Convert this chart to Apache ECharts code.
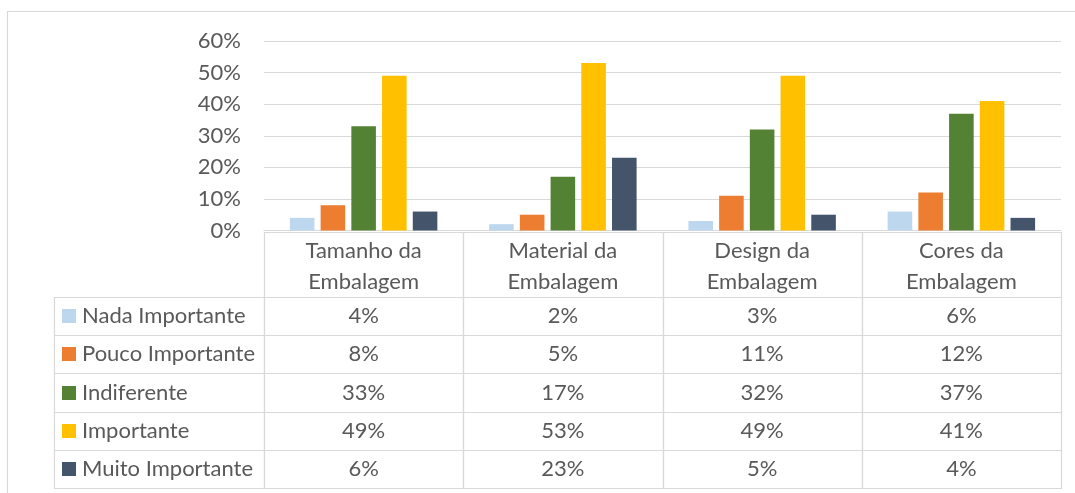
<!DOCTYPE html>
<html>
<head>
<meta charset="utf-8">
<style>
  html, body { margin: 0; padding: 0; background: #ffffff; }
  #chart { width: 1075px; height: 493px; }
</style>
<script src="https://cdn.jsdelivr.net/npm/echarts@6/dist/echarts.min.js"></script>
</head>
<body>
<div id="chart"></div>
<script>
// Importância atribuída às características da embalagem (%)
const categories = ['Tamanho da\nEmbalagem', 'Material da\nEmbalagem', 'Design da\nEmbalagem', 'Cores da\nEmbalagem'];
const seriesNames = ['Nada Importante', 'Pouco Importante', 'Indiferente', 'Importante', 'Muito Importante'];
const nadaImportante = [4, 2, 3, 6];
const poucoImportante = [8, 5, 11, 12];
const indiferente = [33, 17, 32, 37];
const importante = [49, 53, 49, 41];
const muitoImportante = [6, 23, 5, 4];
const yTicks = [0, 10, 20, 30, 40, 50, 60];

const seriesValues = [nadaImportante, poucoImportante, indiferente, importante, muitoImportante];
const colors = ['#BDD7EE', '#ED7D31', '#548235', '#FFC000', '#44546A'];

const FONT = 'Lato, "Liberation Sans", sans-serif';
const TEXT = '#595959';
const LINE = '#d9d9d9';
const FS = 22;
const LEGEND_COL_W = 211;
const HEADER_H = 66;

const chart = echarts.init(document.getElementById('chart'), null, { renderer: 'canvas' });

// Data-table cells: one item per (category, series)
const tableData = [];
seriesValues.forEach((vals, r) => {
  vals.forEach((v, c) => tableData.push([c, r, v]));
});

function crisp(v) { return Math.round(v) + 0.5; }

function renderCell(params, api) {
  const c = api.value(0);
  const r = api.value(1);
  const v = api.value(2);
  const center = api.coord([c, r]);
  const size = api.size([1, 1]);
  const x0 = crisp(center[0] - size[0] / 2);
  const x1 = crisp(center[0] + size[0] / 2);
  const y0 = crisp(center[1] - size[1] / 2);
  const y1 = crisp(center[1] + size[1] / 2);
  const children = [
    {
      type: 'rect',
      shape: { x: x0, y: y0, width: x1 - x0, height: y1 - y0 },
      style: { fill: 'none', stroke: LINE, lineWidth: 1.2 }
    },
    {
      type: 'text',
      style: {
        text: v + '%', x: center[0], y: center[1],
        align: 'center', verticalAlign: 'middle',
        fill: TEXT, fontSize: FS, fontFamily: FONT
      }
    }
  ];
  if (c === 0) {
    // legend key column
    const lx = crisp(x0 - LEGEND_COL_W);
    children.push({
      type: 'rect',
      shape: { x: lx, y: y0, width: x0 - lx, height: y1 - y0 },
      style: { fill: 'none', stroke: LINE, lineWidth: 1.2 }
    });
    children.push({
      type: 'rect',
      shape: { x: lx + 7.5, y: Math.round(center[1] - 7), width: 14, height: 14 },
      style: { fill: colors[r] }
    });
    children.push({
      type: 'text',
      style: {
        text: seriesNames[r], x: lx + 27.5, y: center[1],
        align: 'left', verticalAlign: 'middle',
        fill: TEXT, fontSize: FS, fontFamily: FONT
      }
    });
  }
  if (r === 0) {
    // category header row
    const hy = crisp(y0 - HEADER_H);
    children.push({
      type: 'rect',
      shape: { x: x0, y: hy, width: x1 - x0, height: y0 - hy },
      style: { fill: 'none', stroke: LINE, lineWidth: 1.2 }
    });
    children.push({
      type: 'text',
      style: {
        text: categories[c], x: center[0], y: hy + HEADER_H / 2 + 1,
        align: 'center', verticalAlign: 'middle', lineHeight: 31,
        fill: TEXT, fontSize: FS, fontFamily: FONT
      }
    });
  }
  return { type: 'group', children };
}

const barSeries = seriesNames.map((name, i) => ({
  name,
  type: 'bar',
  xAxisIndex: 0,
  yAxisIndex: 0,
  data: seriesValues[i],
  barGap: '25%',
  barCategoryGap: '26%',
  itemStyle: { color: colors[i] },
  emphasis: { disabled: true }
}));

chart.setOption({
  backgroundColor: '#ffffff',
  animation: false,
  textStyle: { fontFamily: FONT },
  graphic: [{
    type: 'rect',
    shape: { x: 7.5, y: 11.5, width: 1100, height: 500 },
    style: { fill: 'none', stroke: LINE, lineWidth: 1.2 },
    silent: true
  }],
  grid: [
    { left: 264, right: 14, top: 41, bottom: 262.5 },
    { left: 264, right: 14, top: 297, bottom: 5 }
  ],
  xAxis: [
    {
      type: 'category', gridIndex: 0, data: categories,
      axisLine: { show: true, lineStyle: { color: LINE, width: 1.2 } },
      axisTick: { show: false },
      axisLabel: { show: false },
      splitLine: { show: false }
    },
    {
      type: 'category', gridIndex: 1, data: categories, show: false
    }
  ],
  yAxis: [
    {
      type: 'value', gridIndex: 0, min: yTicks[0], max: yTicks[yTicks.length - 1], interval: 10,
      axisLine: { show: false },
      axisTick: { show: false },
      axisLabel: {
        formatter: '{value}%', color: TEXT, fontSize: FS, fontFamily: FONT, margin: 23
      },
      splitLine: { lineStyle: { color: LINE, width: 1.2 } }
    },
    {
      type: 'category', gridIndex: 1, data: seriesNames, inverse: true, show: false
    }
  ],
  series: barSeries.concat([{
    type: 'custom',
    xAxisIndex: 1,
    yAxisIndex: 1,
    data: tableData,
    clip: false,
    silent: true,
    renderItem: renderCell
  }])
});
</script>
</body>
</html>
